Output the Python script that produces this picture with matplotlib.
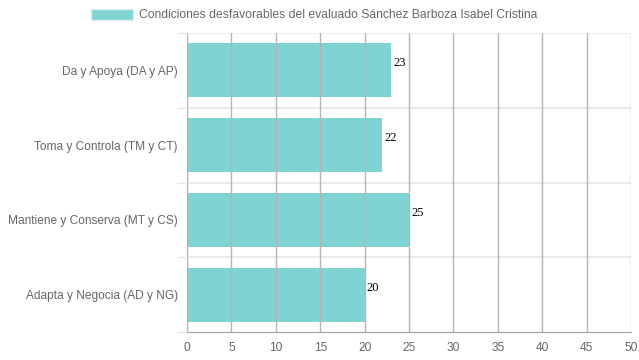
import matplotlib.pyplot as plt
from matplotlib.patches import Patch

categorias = ['Da y Apoya (DA y AP)', 'Toma y Controla (TM y CT)',
              'Mantiene y Conserva (MT y CS)', 'Adapta y Negocia (AD y NG)']
valores = [23, 22, 25, 20]
serie = 'Condiciones desfavorables del evaluado Sánchez Barboza Isabel Cristina'

plt.rcParams['font.family'] = ['Liberation Sans', 'DejaVu Sans']

fig = plt.figure(figsize=(6.39, 3.6), dpi=100)
ax = fig.add_axes([187/639, 1 - 332/360, (631 - 187)/639, (332 - 33)/360])

pos = list(range(len(categorias)))
color_barra = '#80d3d3'
ax.barh(pos, valores, height=0.72, color=color_barra, zorder=1)

for y, v in zip(pos, valores):
    ax.annotate(str(v), (v, y), xytext=(1.5, 5), textcoords='offset points',
                ha='left', va='center', fontsize=9, family='Liberation Serif', color='black')

ax.set_xlim(0, 50)
ax.set_ylim(len(categorias) - 0.5, -0.5)
ax.set_xticks(range(0, 51, 5))
ax.set_yticks(pos)
ax.set_yticklabels(categorias)
ax.set_yticks([p - 0.5 for p in pos] + [len(pos) - 0.5], minor=True)

ax.grid(axis='x', color='#b5b5b5', lw=1, zorder=2)
ax.set_axisbelow(False)
for b in [p - 0.5 for p in pos]:
    ax.axhline(b, color='#e8e8e8', lw=1.2, zorder=0)

ax.tick_params(axis='x', length=0, pad=7, labelsize=8.6, labelcolor='#666666')
ax.tick_params(axis='y', which='major', length=0, pad=6.5, labelsize=8.6, labelcolor='#666666')
ax.tick_params(axis='y', which='minor', length=7.2, color='#e8e8e8', width=1)

for s in ['top', 'right']:
    ax.spines[s].set_visible(False)
ax.spines['left'].set_color('#a0a0a0')
ax.spines['bottom'].set_color('#a0a0a0')

fig.legend(handles=[Patch(facecolor=color_barra, edgecolor='#d8eeee', lw=1, label=serie)],
           loc='center', bbox_to_anchor=(0.5 - 5/639, 1 - 15/360), frameon=False, fontsize=8.7,
           labelcolor='#666666', handlelength=3.4, handleheight=1.0, handletextpad=0.55)

fig.savefig('out.png', dpi=100)
